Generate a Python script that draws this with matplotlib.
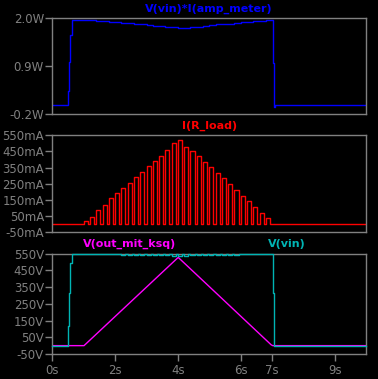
import numpy as np
import matplotlib.pyplot as plt

# V(vin)*I(amp_meter) in W (staircase samples)
p_t = [0, 0.51, 0.54, 0.57, 0.62, 1.2, 1.4, 1.6, 1.8, 2.0, 2.2, 2.4, 2.6, 2.8, 3.0,
       3.2, 3.4, 3.6, 3.8, 4.0, 4.2, 4.4, 4.6, 4.8, 5.0, 5.2, 5.4, 5.6, 5.8, 6.0,
       6.2, 6.4, 6.6, 6.8, 7.02, 7.06, 7.1, 10]
p_v = [0, 0.34, 1.00, 1.62, 1.96, 1.95, 1.94, 1.93, 1.92, 1.91, 1.90, 1.89, 1.87, 1.86, 1.85,
       1.83, 1.82, 1.80, 1.79, 1.77, 1.78, 1.80, 1.81, 1.83, 1.84, 1.86, 1.87, 1.88, 1.90, 1.91,
       1.92, 1.93, 1.94, 1.96, 0.97, -0.03, 0.0, 0.0]

# I(R_load) pulses: start time (s) and top (mA)
pulse_t = [1.0, 1.2, 1.4, 1.6, 1.8, 2.0, 2.2, 2.4, 2.6, 2.8, 3.0, 3.2, 3.4, 3.6, 3.8,
           4.0, 4.2, 4.4, 4.6, 4.8, 5.0, 5.2, 5.4, 5.6, 5.8, 6.0, 6.2, 6.4, 6.6, 6.8]
pulse_h = [20, 47, 88, 119, 160, 191, 222, 257, 294, 325, 358, 392, 425, 460, 500,
           520, 480, 455, 422, 387, 352, 318, 284, 249, 212, 177, 144, 107, 71, 37]
pulse_w = 0.13

# V(vin) edges
vin_t = [0, 0.51, 0.54, 0.57, 0.62, 7.02, 7.06, 10]
vin_v = [0, 120, 312, 492, 550, 312, 0, 0]
# small sag of vin during load pulses 1.8s..6.2s (V)
sag_t = [1.8, 2.0, 2.2, 2.4, 2.6, 2.8, 3.0, 3.2, 3.4, 3.6, 3.8, 4.0,
         4.2, 4.4, 4.6, 4.8, 5.0, 5.2, 5.4, 5.6, 5.8, 6.0, 6.2]
sag_v = [4, 4, 5, 5, 6, 6, 7, 8, 9, 10, 11, 12, 11, 10, 9, 8, 7, 6, 6, 5, 5, 4, 4]

# V(out_mit_ksq)
out_t = [0, 1.01, 4.01, 6.97, 7.02, 10]
out_v = [0, 0, 528, 5, 0, 0]

GRAY = '#808080'
BG = 'black'

fig = plt.figure(figsize=(3.78, 3.79), dpi=100, facecolor=BG)
L, W = 52.3 / 378, 314 / 378
ax1 = fig.add_axes([L, 1 - 114 / 379, W, 95.7 / 379])
ax2 = fig.add_axes([L, 1 - 232.3 / 379, W, 97 / 379])
ax3 = fig.add_axes([L, 1 - 354 / 379, W, 100.3 / 379])

for ax in (ax1, ax2, ax3):
    ax.set_facecolor(BG)
    for s in ax.spines.values():
        s.set_color(GRAY)
        s.set_linewidth(1)
    ax.set_xlim(0, 10)
    ax.tick_params(axis='y', colors=GRAY, labelcolor=GRAY, length=5, width=1,
                   pad=1, labelsize=8.5)
    ax.tick_params(axis='x', bottom=False, labelbottom=False)

# panel 1
ax1.plot(p_t, p_v, color='#0000ff', lw=1, drawstyle='steps-post')
ax1.set_ylim(-0.2, 2.0)
ax1.set_yticks([-0.2, 0.9, 2.0])
ax1.set_yticklabels(['-0.2W', '0.9W', '2.0W'])
fig.text(209 / 378, 1 - 9 / 379, 'V(vin)*I(amp_meter)', color='#0000ff',
         fontsize=8, fontweight='bold', ha='center', va='center')

# panel 2: build pulse train from the lists
cur_t, cur_v = [0], [0]
for t, h in zip(pulse_t, pulse_h):
    cur_t += [t, t, t + pulse_w, t + pulse_w]
    cur_v += [0, h, h, 0]
cur_t.append(10)
cur_v.append(0)
ax2.plot(cur_t, cur_v, color='#ff0000', lw=1)
ax2.set_ylim(-50, 550)
yt = [-50, 50, 150, 250, 350, 450, 550]
ax2.set_yticks(yt)
ax2.set_yticklabels([f'{v}mA' for v in yt])
fig.text(209.5 / 378, 1 - 125.7 / 379, 'I(R_load)', color='#ff0000',
         fontsize=8, fontweight='bold', ha='center', va='center')

# panel 3
vt, vv = list(vin_t[:5]), list(vin_v[:5])
for t, d in zip(sag_t, sag_v):
    vt += [t, t, t + pulse_w, t + pulse_w]
    vv += [550, 550 - d, 550 - d, 550]
vt += vin_t[5:]
vv += vin_v[5:]
ax3.plot(vt, vv, color='#00b4b4', lw=1, drawstyle='steps-post', clip_on=False, zorder=5)
ax3.plot(out_t, out_v, color='#ff00ff', lw=1)
ax3.set_ylim(-50, 550)
ax3.set_yticks(yt)
ax3.set_yticklabels([f'{v}V' for v in yt])
ax3.set_xticks([0, 2, 4, 6, 7, 9])
ax3.set_xticklabels(['0s', '2s', '4s', '6s', '7s', '9s'])
ax3.tick_params(axis='x', bottom=True, labelbottom=True, colors=GRAY,
                labelcolor=GRAY, length=5, width=1, pad=2, labelsize=8.5)
fig.text(129.5 / 378, 1 - 244 / 379, 'V(out_mit_ksq)', color='#ff00ff',
         fontsize=8, fontweight='bold', ha='center', va='center')
fig.text(286.8 / 378, 1 - 244 / 379, 'V(vin)', color='#00b4b4',
         fontsize=8, fontweight='bold', ha='center', va='center')

fig.savefig('out.png', dpi=100, facecolor=BG)
